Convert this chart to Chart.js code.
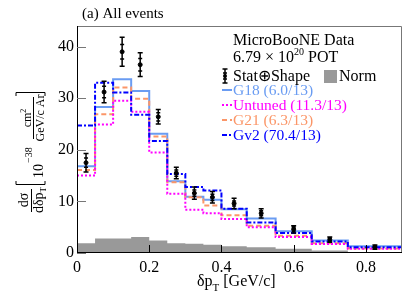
<!DOCTYPE html>
<html>
<head>
<meta charset="utf-8">
<script src="https://cdn.jsdelivr.net/npm/chart.js@4.4.0/dist/chart.umd.min.js"></script>
<style>html,body{margin:0;padding:0;background:#fff}</style>
</head>
<body>
<canvas id="c" width="407" height="295"></canvas>
<script>
'use strict'

// bin edges in delta pT [GeV/c]
const binEdges = [0, 0.05, 0.1, 0.15, 0.2, 0.25, 0.3, 0.35, 0.4, 0.47, 0.55, 0.65, 0.75, 0.9]
// data and errors
const dataVals = [17.5, 31.2, 39.0, 36.5, 26.4, 15.5, 11.6, 10.8, 9.6, 7.7, 4.6, 2.6, 1.15]
const dataErr = [1.8, 2.1, 2.8, 2.3, 1.4, 1.1, 1.2, 1.1, 1.0, 0.9, 0.7, 0.5, 0.4]
const statErr = [0.9, 1.1, 1.4, 1.2, 0.8, 0.6, 0.6, 0.6, 0.5, 0.5, 0.4, 0.3, 0.2]
// generator predictions
const g18 = [16.8, 28.3, 33.7, 31.4, 23.1, 13.9, 10.9, 10.3, 8.5, 6.7, 4.2, 2.4, 1.3]
const untuned = [15.0, 24.9, 29.5, 27.4, 19.5, 11.5, 8.4, 7.7, 6.6, 5.0, 3.1, 1.75, 0.8]
const g21 = [16.1, 26.9, 32.1, 29.9, 22.6, 13.7, 10.8, 9.2, 7.3, 5.3, 3.35, 1.9, 0.85]
const gv2 = [24.7, 33.0, 31.1, 26.8, 21.7, 15.3, 12.8, 12.1, 8.6, 5.9, 3.9, 2.25, 1.1]
// normalisation uncertainty
const normVals = [1.9, 2.8, 2.8, 3.1, 2.4, 1.9, 1.8, 1.6, 1.3, 1.1, 0.8, 0.5, 0.2]

const xTicks = [0, 0.2, 0.4, 0.6, 0.8]
const yTicks = [0, 10, 20, 30, 40]

const SERIF = '"Liberation Serif", "Times New Roman", serif'
const C_G18 = '#6a9cf2'
const C_UNT = '#ff00ff'
const C_G21 = '#fb9668'
const C_GV2 = '#0000ff'

const steps = vals => binEdges.map((e, i) => ({ x: e, y: vals[Math.min(i, vals.length - 1)] }))
const centers = binEdges.slice(0, -1).map((e, i) => (e + binEdges[i + 1]) / 2)

const histo = (vals, color, dash, order) => ({
  data: steps(vals),
  stepped: 'before',
  borderColor: color,
  borderWidth: 2,
  borderDash: dash,
  pointRadius: 0,
  fill: false,
  order: order
})

const errBars = {
  id: 'errBars',
  afterDatasetsDraw(chart) {
    const { ctx, scales: { x, y } } = chart
    ctx.save()
    ctx.strokeStyle = '#000'
    ctx.lineWidth = 1.5
    centers.forEach((c, i) => {
      const px = x.getPixelForValue(c)
      const top = y.getPixelForValue(dataVals[i] + dataErr[i])
      const bot = y.getPixelForValue(dataVals[i] - dataErr[i])
      const st = y.getPixelForValue(dataVals[i] + statErr[i])
      const sb = y.getPixelForValue(dataVals[i] - statErr[i])
      ctx.beginPath()
      ctx.moveTo(px, top); ctx.lineTo(px, bot)
      ctx.moveTo(px - 2.5, top); ctx.lineTo(px + 2.5, top)
      ctx.moveTo(px - 2.5, bot); ctx.lineTo(px + 2.5, bot)
      ctx.moveTo(px - 2, st); ctx.lineTo(px + 2, st)
      ctx.moveTo(px - 2, sb); ctx.lineTo(px + 2, sb)
      ctx.stroke()
    })
    ctx.restore()
  }
}

function rotText(ctx, text, font, yStart, xBase) {
  ctx.save()
  ctx.font = font
  ctx.translate(xBase, yStart)
  ctx.rotate(-Math.PI / 2)
  ctx.fillText(text, 0, 0)
  ctx.restore()
}

function legLine(ctx, color, dash, y) {
  ctx.save()
  ctx.strokeStyle = color
  ctx.lineWidth = 2
  ctx.setLineDash(dash)
  ctx.beginPath()
  ctx.moveTo(222, y); ctx.lineTo(232, y)
  ctx.stroke()
  ctx.restore()
}

const decor = {
  id: 'decor',
  afterDraw(chart) {
    const { ctx, chartArea: a, scales: { x, y } } = chart
    ctx.save()
    // frame
    ctx.lineWidth = 1
    ctx.strokeStyle = '#777'
    ctx.beginPath()
    ctx.moveTo(a.left, a.top + 0.5); ctx.lineTo(a.right - 0.5, a.top + 0.5); ctx.lineTo(a.right - 0.5, a.bottom)
    ctx.stroke()
    ctx.strokeStyle = '#000'
    ctx.beginPath()
    ctx.moveTo(a.left + 0.5, a.top); ctx.lineTo(a.left + 0.5, a.bottom - 0.5); ctx.lineTo(a.right, a.bottom - 0.5)
    ctx.stroke()
    // ticks
    ctx.strokeStyle = '#777'
    yTicks.forEach(v => {
      const py = Math.round(y.getPixelForValue(v)) + 0.5
      ctx.beginPath(); ctx.moveTo(a.left, py); ctx.lineTo(a.left + 9, py); ctx.stroke()
    })
    ctx.strokeStyle = '#000'
    xTicks.forEach(v => {
      const px = Math.round(x.getPixelForValue(v)) + 0.5
      ctx.beginPath(); ctx.moveTo(px, a.bottom); ctx.lineTo(px, a.bottom - 8); ctx.stroke()
    })

    ctx.fillStyle = '#000'
    ctx.textAlign = 'left'
    ctx.textBaseline = 'alphabetic'
    // title
    ctx.font = '15px ' + SERIF
    ctx.fillText('(a) All events', 82, 18)

    // legend
    ctx.font = '16px ' + SERIF
    ctx.fillText('MicroBooNE Data', 233, 45)
    let lx = 233
    ctx.fillText('6.79 × 10', lx, 62)
    lx += ctx.measureText('6.79 × 10').width
    ctx.font = '10px ' + SERIF
    ctx.fillText('20', lx, 55)
    lx += ctx.measureText('20').width
    ctx.font = '16px ' + SERIF
    ctx.fillText(' POT', lx, 62)

    // stat+shape icon
    ctx.strokeStyle = '#000'
    ctx.lineWidth = 1.5
    ctx.beginPath()
    ctx.moveTo(225, 69); ctx.lineTo(225, 83)
    ctx.moveTo(222.5, 69); ctx.lineTo(227.5, 69)
    ctx.moveTo(222.5, 83); ctx.lineTo(227.5, 83)
    ctx.moveTo(223, 73); ctx.lineTo(227, 73)
    ctx.moveTo(223, 79); ctx.lineTo(227, 79)
    ctx.stroke()
    ctx.beginPath(); ctx.arc(225, 76, 2, 0, Math.PI * 2); ctx.fill()
    ctx.fillText('Stat⊕Shape', 233, 81)
    ctx.fillStyle = '#999'
    ctx.fillRect(324, 70, 13, 13)
    ctx.fillStyle = '#000'
    ctx.fillText('Norm', 339, 81)

    ctx.font = '15.5px ' + SERIF
    legLine(ctx, C_G18, [], 90)
    ctx.fillStyle = C_G18
    ctx.fillText('G18 (6.0/13)', 233, 95)
    legLine(ctx, C_UNT, [2, 2], 105)
    ctx.fillStyle = C_UNT
    ctx.fillText('Untuned (11.3/13)', 233, 110)
    legLine(ctx, C_G21, [5, 3], 120)
    ctx.fillStyle = C_G21
    ctx.fillText('G21 (6.3/13)', 233, 125)
    legLine(ctx, C_GV2, [5, 2, 2, 2], 135)
    ctx.fillStyle = C_GV2
    ctx.fillText('Gv2 (70.4/13)', 233, 140)

    // x title
    ctx.fillStyle = '#000'
    let tx = 197
    ctx.font = '16px ' + SERIF
    ctx.fillText('δp', tx, 286)
    tx += ctx.measureText('δp').width
    ctx.font = '11px ' + SERIF
    ctx.fillText('T', tx, 291)
    tx += ctx.measureText('T').width
    ctx.font = '16px ' + SERIF
    ctx.fillText(' [GeV/c]', tx, 286)

    // y title (rotated)
    ctx.font = '14px ' + SERIF
    const wds = ctx.measureText('dσ').width
    rotText(ctx, 'dσ', '14px ' + SERIF, 200 + wds / 2, 28)
    ctx.lineWidth = 1
    ctx.beginPath(); ctx.moveTo(31.5, 189); ctx.lineTo(31.5, 212); ctx.stroke()
    ctx.font = '14px ' + SERIF
    const wd1 = ctx.measureText('dδp').width
    ctx.font = '9px ' + SERIF
    const wd2 = ctx.measureText('T').width
    const dStart = 200 + (wd1 + wd2) / 2
    rotText(ctx, 'dδp', '14px ' + SERIF, dStart, 43)
    rotText(ctx, 'T', '9px ' + SERIF, dStart - wd1, 46)
    // brackets
    ctx.lineWidth = 1
    ctx.beginPath()
    ctx.moveTo(16, 181); ctx.lineTo(16, 184.5); ctx.lineTo(45, 184.5); ctx.lineTo(45, 181)
    ctx.moveTo(16, 96); ctx.lineTo(16, 92.5); ctx.lineTo(45, 92.5); ctx.lineTo(45, 96)
    ctx.stroke()
    ctx.font = '14px ' + SERIF
    const w10 = ctx.measureText('10').width
    rotText(ctx, '10', '14px ' + SERIF, 178, 43)
    rotText(ctx, '−38', '10px ' + SERIF, 178 - w10 - 1, 32)
    ctx.font = '12px ' + SERIF
    const wcm = ctx.measureText('cm').width
    ctx.font = '8px ' + SERIF
    const wc2 = ctx.measureText('2').width
    const cStart = 118 + (wcm + wc2) / 2
    rotText(ctx, 'cm', '12px ' + SERIF, cStart, 31)
    rotText(ctx, '2', '8px ' + SERIF, cStart - wcm, 26)
    ctx.beginPath(); ctx.moveTo(33.5, 97); ctx.lineTo(33.5, 139); ctx.stroke()
    ctx.font = '12px ' + SERIF
    const wgev = ctx.measureText('GeV/c Ar').width
    rotText(ctx, 'GeV/c Ar', '12px ' + SERIF, 118 + wgev / 2, 44)
    ctx.restore()
  }
}

Chart.defaults.font.family = SERIF
Chart.defaults.color = '#000'

new Chart(document.getElementById('c'), {
  type: 'line',
  data: {
    datasets: [
      {
        data: steps(normVals),
        stepped: 'before',
        borderWidth: 0,
        borderColor: '#999',
        backgroundColor: '#999',
        pointRadius: 0,
        fill: 'origin',
        order: 10
      },
      histo(g18, C_G18, [], 5),
      histo(g21, C_G21, [5, 3], 4),
      histo(untuned, C_UNT, [2, 2], 3),
      histo(gv2, C_GV2, [5, 2, 2, 2], 2),
      {
        type: 'scatter',
        data: centers.map((c, i) => ({ x: c, y: dataVals[i] })),
        pointRadius: 2,
        pointBackgroundColor: '#000',
        pointBorderColor: '#000',
        showLine: false,
        order: 1
      }
    ]
  },
  options: {
    responsive: false,
    animation: false,
    devicePixelRatio: 1,
    layout: { padding: { top: 26, right: 4, left: 0, bottom: 0 } },
    plugins: { legend: { display: false }, tooltip: { enabled: false } },
    scales: {
      x: {
        type: 'linear',
        min: 0,
        max: 0.9,
        border: { display: false },
        grid: { display: false, drawTicks: false },
        afterBuildTicks: s => { s.ticks = xTicks.map(v => ({ value: v })) },
        afterFit: s => { s.height = 42 },
        ticks: { padding: 5, font: { size: 16 }, maxRotation: 0, callback: v => String(v) }
      },
      y: {
        min: 0,
        max: 44,
        border: { display: false },
        grid: { display: false, drawTicks: false },
        afterBuildTicks: s => { s.ticks = yTicks.map(v => ({ value: v })) },
        afterFit: s => { s.width = 77 },
        ticks: { padding: 3, font: { size: 16 } }
      }
    }
  },
  plugins: [errBars, decor]
})
</script>
</body>
</html>
